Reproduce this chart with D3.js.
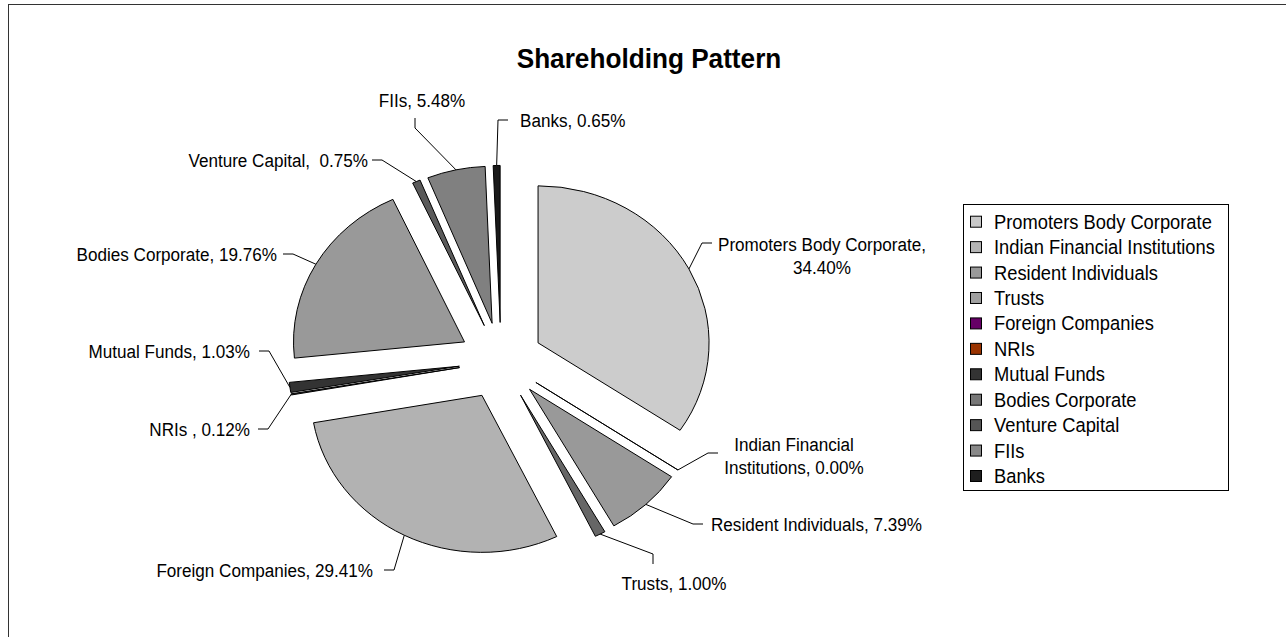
<!DOCTYPE html>
<html>
<head>
<meta charset="utf-8">
<script src="https://cdn.jsdelivr.net/npm/d3@7"></script>
<style>
  body { margin: 0; background: #fff; }
  svg text { font-family: "Liberation Sans", Arial, sans-serif; fill: #000; white-space: pre; }
  .lbl { font-size: 19px; }
  .leg { font-size: 19.5px; }
  .title { font-size: 27px; font-weight: bold; }
</style>
</head>
<body>
<div id="chart"></div>
<script>
// shareholding categories and percentages
const categories = [
  "Promoters Body Corporate", "Indian Financial Institutions", "Resident Individuals",
  "Trusts", "Foreign Companies", "NRIs", "Mutual Funds", "Bodies Corporate",
  "Venture Capital", "FIIs", "Banks"
];
const shares = [34.40, 0.00, 7.39, 1.00, 29.41, 0.12, 1.03, 19.76, 0.75, 5.48, 0.65];
const labelLines = [
  ["Promoters Body Corporate,", "34.40%"],
  ["Indian Financial", "Institutions, 0.00%"],
  ["Resident Individuals, 7.39%"],
  ["Trusts, 1.00%"],
  ["Foreign Companies, 29.41%"],
  ["NRIs , 0.12%"],
  ["Mutual Funds, 1.03%"],
  ["Bodies Corporate, 19.76%"],
  ["Venture Capital,  0.75%"],
  ["FIIs, 5.48%"],
  ["Banks, 0.65%"]
];

// slice fills and legend swatches (legend does not match the pie, as in the original)
const sliceColors = ["#cccccc", "#c0c0c0", "#999999", "#666666", "#b2b2b2", "#333333",
  "#333333", "#999999", "#5a5a5a", "#808080", "#1a1a1a"];
const legendColors = ["#c8c8c8", "#b4b4b4", "#999999", "#a0a0a0", "#660066", "#993300",
  "#333333", "#777777", "#555555", "#888888", "#1e1e1e"];

// label anchors: outer end of the leader tick, tick direction, text position
const labelLayout = [
  { x: 712, y: 243, dir: "right", tx: 822, ty: 251, anchor: "middle" },
  { x: 718, y: 453, dir: "right", tx: 794, ty: 451, anchor: "middle" },
  { x: 703, y: 524, dir: "right", tx: 711, ty: 531, anchor: "start" },
  { x: 653, y: 564, dir: "down", tx: 674, ty: 590, anchor: "middle" },
  { x: 384, y: 570, dir: "left", tx: 373, ty: 577, anchor: "end" },
  { x: 258, y: 429, dir: "left", tx: 250, ty: 436, anchor: "end" },
  { x: 259, y: 351, dir: "left", tx: 250, ty: 358, anchor: "end" },
  { x: 283, y: 254, dir: "left", tx: 277, ty: 261, anchor: "end" },
  { x: 372, y: 160, dir: "left", tx: 368, ty: 167, anchor: "end" },
  { x: 415, y: 118, dir: "up", tx: 422, ty: 107, anchor: "middle" },
  { x: 508, y: 120, dir: "right", tx: 520, ty: 127, anchor: "start" }
];

const W = 1286, H = 637;
const cx = 501, cy = 361, rx = 171, ry = 157, explode = 42, tick = 10;
const k = ry / rx;
const squeeze = 0.9;     // text in the original is horizontally condensed
const legSqueeze = 0.94;

const svg = d3.select("#chart").append("svg").attr("width", W).attr("height", H);

svg.append("rect")
  .attr("x", 8.5).attr("y", 4.5)
  .attr("width", 1300).attr("height", 700)
  .attr("fill", "#fff").attr("stroke", "#333");

svg.append("text")
  .attr("class", "title")
  .attr("transform", `translate(649,68) scale(0.97,1)`)
  .attr("text-anchor", "middle")
  .text("Shareholding Pattern");

const data = categories.map((c, i) => ({ name: c, value: shares[i], i }));

const pie = d3.pie().sort(null).value((d) => d.value)
  .startAngle(0).endAngle(2 * Math.PI);
const arcs = pie(data);
const arc = d3.arc().innerRadius(0).outerRadius(rx);

const pieG = svg.append("g")
  .attr("transform", `translate(${cx},${cy}) scale(1,${k})`);

const mid = (a) => (a.startAngle + a.endAngle) / 2;

pieG.selectAll("path.slice")
  .data(arcs)
  .join("path")
  .attr("class", "slice")
  .attr("transform", (a) => {
    const m = mid(a);
    return `translate(${Math.sin(m) * explode},${-Math.cos(m) * explode})`;
  })
  .attr("d", arc)
  .attr("fill", (a) => sliceColors[a.data.i])
  .attr("stroke", "#000")
  .attr("stroke-width", 1)
  .attr("stroke-linejoin", "round")
  .attr("vector-effect", "non-scaling-stroke");

// point on the outer arc at the middle of a slice, in page coordinates
function edgePoint(a) {
  const m = mid(a);
  const r = rx + explode;
  return [cx + Math.sin(m) * r, cy - Math.cos(m) * r * k];
}

const leaderG = svg.append("g");
const labelG = svg.append("g");

arcs.forEach((a) => {
  const L = labelLayout[a.data.i];
  const p = edgePoint(a);
  let elbow;
  if (L.dir === "right") elbow = [L.x - tick, L.y];
  else if (L.dir === "left") elbow = [L.x + tick, L.y];
  else if (L.dir === "up") elbow = [L.x, L.y + tick];
  else elbow = [L.x, L.y - tick];

  leaderG.append("path")
    .attr("d", d3.line()([[L.x, L.y], elbow, p]))
    .attr("fill", "none")
    .attr("stroke", "#000")
    .attr("stroke-width", 1);

  const t = labelG.append("text")
    .attr("class", "lbl")
    .attr("transform", `translate(${L.tx},${L.ty}) scale(${squeeze},1)`)
    .attr("text-anchor", L.anchor);
  labelLines[a.data.i].forEach((s, j) => {
    t.append("tspan").attr("x", 0).attr("y", j * 23).text(s);
  });
});

// legend
const lg = svg.append("g").attr("transform", "translate(963,204)");
lg.append("rect")
  .attr("x", 0.5).attr("y", 0.5)
  .attr("width", 265).attr("height", 286)
  .attr("fill", "#fff").attr("stroke", "#000");

const rowY = d3.scalePoint().domain(categories).range([17.7, 272]);

const items = lg.selectAll("g.item")
  .data(categories)
  .join("g")
  .attr("class", "item")
  .attr("transform", (d) => `translate(0,${rowY(d)})`);

items.append("rect")
  .attr("x", 7.5).attr("y", -5.5)
  .attr("width", 11).attr("height", 11)
  .attr("fill", (d, i) => legendColors[i])
  .attr("stroke", "#000");

items.append("text")
  .attr("class", "leg")
  .attr("transform", `translate(31,7) scale(${legSqueeze},1)`)
  .text((d) => d);
</script>
</body>
</html>
